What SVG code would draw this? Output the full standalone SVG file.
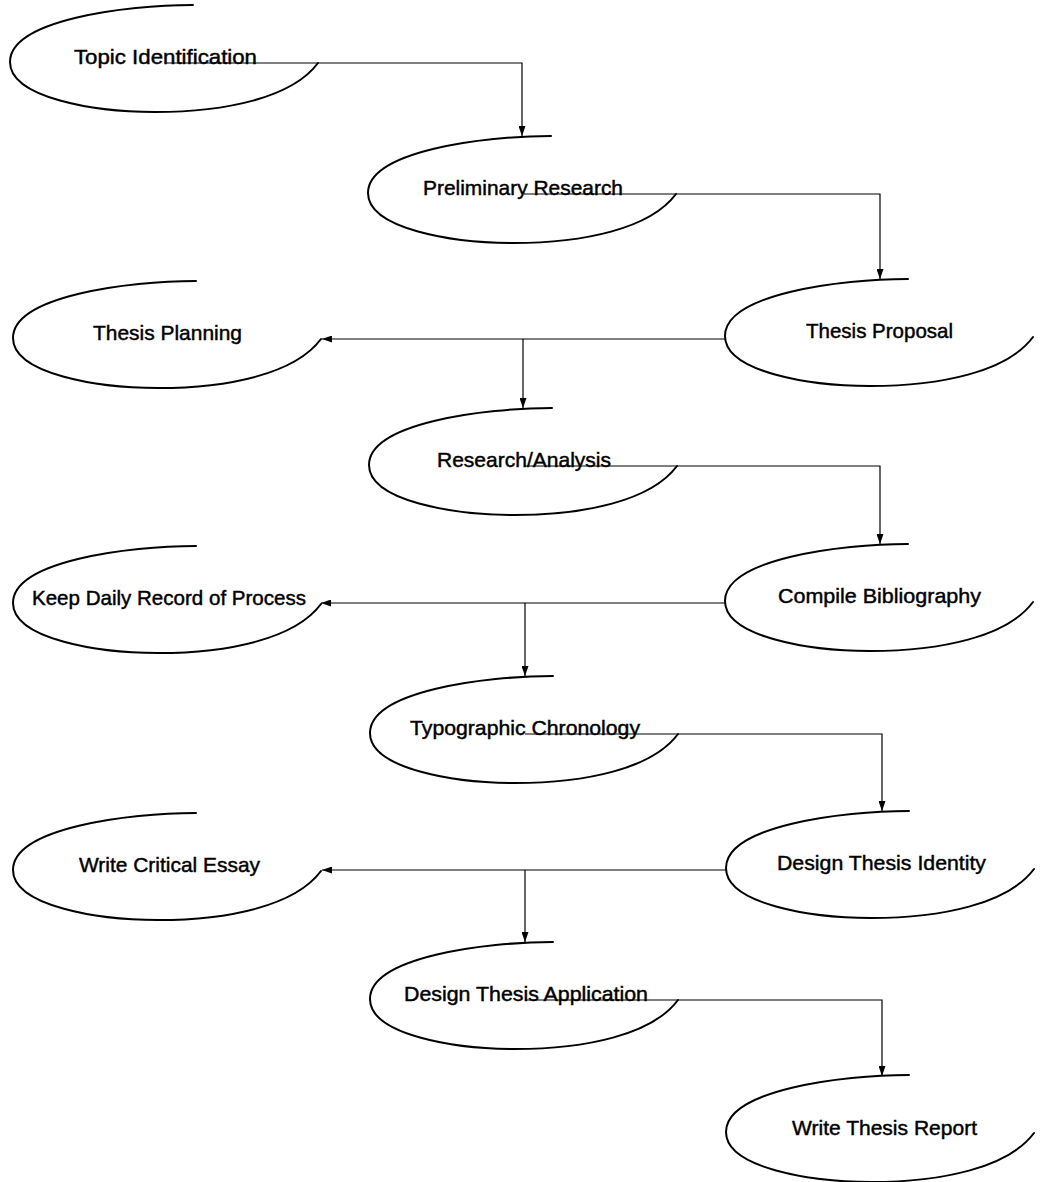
<svg xmlns="http://www.w3.org/2000/svg" xmlns:xlink="http://www.w3.org/1999/xlink" width="1040" height="1182" viewBox="0 0 1040 1182">
<style>
.blob{fill:none;stroke:#000;stroke-width:2;stroke-linecap:round}
.conn{fill:none;stroke:#000;stroke-width:1.2}
.lbl{font-family:"Liberation Sans",Arial,sans-serif;font-size:21px;fill:#000;stroke:#000;stroke-width:0.45}
</style>
<defs>
<path id="blob" class="blob" d="M28,-55 C-40,-55 -155,-40 -155,2 C-155,38 -70,52 -10,52 C60,52 127,38 153,3"/>
<marker id="ah" viewBox="0 0 9 7" refX="9" refY="3.5" markerWidth="10" markerHeight="7" orient="auto" markerUnits="userSpaceOnUse" preserveAspectRatio="none">
<path d="M0,0 L9,3.5 L0,7 z" fill="#000"/>
</marker>
</defs>
<rect width="1040" height="1182" fill="#fff"/>
<g id="connectors">
<path class="conn" d="M165,63 H522 V136" marker-end="url(#ah)"/>
<path class="conn" d="M524,194 H880 V279" marker-end="url(#ah)"/>
<path class="conn" d="M725,339 H322" marker-end="url(#ah)"/>
<path class="conn" d="M523,339 V408" marker-end="url(#ah)"/>
<path class="conn" d="M524,466 H880 V544" marker-end="url(#ah)"/>
<path class="conn" d="M725,603 H321" marker-end="url(#ah)"/>
<path class="conn" d="M525,603 V676" marker-end="url(#ah)"/>
<path class="conn" d="M525,734 H882 V811" marker-end="url(#ah)"/>
<path class="conn" d="M727,870 H322" marker-end="url(#ah)"/>
<path class="conn" d="M525,870 V942" marker-end="url(#ah)"/>
<path class="conn" d="M525,1000 H882 V1076" marker-end="url(#ah)"/>
</g>
<g id="n1"><use xlink:href="#blob" href="#blob" transform="translate(165,60)"/><text class="lbl" x="74" y="64" textLength="183" lengthAdjust="spacingAndGlyphs">Topic Identification</text></g>
<g id="n2"><use xlink:href="#blob" href="#blob" transform="translate(523,191)"/><text class="lbl" x="423" y="195" textLength="200" lengthAdjust="spacingAndGlyphs">Preliminary Research</text></g>
<g id="n3"><use xlink:href="#blob" href="#blob" transform="translate(168,336)"/><text class="lbl" x="93" y="340" textLength="149" lengthAdjust="spacingAndGlyphs">Thesis Planning</text></g>
<g id="n4"><use xlink:href="#blob" href="#blob" transform="translate(880,334)"/><text class="lbl" x="806" y="338" textLength="147" lengthAdjust="spacingAndGlyphs">Thesis Proposal</text></g>
<g id="n5"><use xlink:href="#blob" href="#blob" transform="translate(524,463)"/><text class="lbl" x="437" y="467" textLength="174" lengthAdjust="spacingAndGlyphs">Research/Analysis</text></g>
<g id="n6"><use xlink:href="#blob" href="#blob" transform="translate(168,601)"/><text class="lbl" x="32" y="605" textLength="274" lengthAdjust="spacingAndGlyphs">Keep Daily Record of Process</text></g>
<g id="n7"><use xlink:href="#blob" href="#blob" transform="translate(880,599)"/><text class="lbl" x="778" y="603" textLength="203" lengthAdjust="spacingAndGlyphs">Compile Bibliography</text></g>
<g id="n8"><use xlink:href="#blob" href="#blob" transform="translate(525,731)"/><text class="lbl" x="410" y="735" textLength="230" lengthAdjust="spacingAndGlyphs">Typographic Chronology</text></g>
<g id="n9"><use xlink:href="#blob" href="#blob" transform="translate(168,868)"/><text class="lbl" x="79" y="872" textLength="181" lengthAdjust="spacingAndGlyphs">Write Critical Essay</text></g>
<g id="n10"><use xlink:href="#blob" href="#blob" transform="translate(881,866)"/><text class="lbl" x="777" y="870" textLength="209" lengthAdjust="spacingAndGlyphs">Design Thesis Identity</text></g>
<g id="n11"><use xlink:href="#blob" href="#blob" transform="translate(525,997)"/><text class="lbl" x="404" y="1001" textLength="244" lengthAdjust="spacingAndGlyphs">Design Thesis Application</text></g>
<g id="n12"><use xlink:href="#blob" href="#blob" transform="translate(881,1130)"/><text class="lbl" x="792" y="1135" textLength="185" lengthAdjust="spacingAndGlyphs">Write Thesis Report</text></g>
</svg>
